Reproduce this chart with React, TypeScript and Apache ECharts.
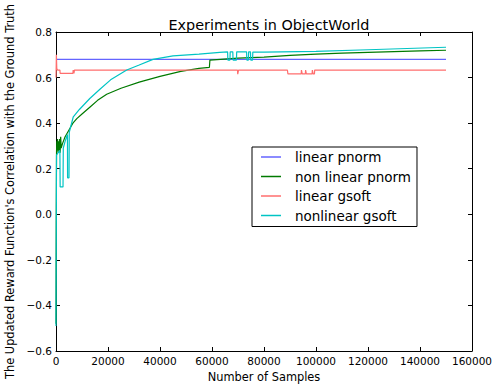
import React, { useEffect, useRef } from "react";
import * as echarts from "echarts";

const xTicks = [0, 20000, 40000, 60000, 80000, 100000, 120000, 140000, 160000];
const yTicks = [-0.6, -0.4, -0.2, 0.0, 0.2, 0.4, 0.6, 0.8];

const seriesNames = ["linear pnorm", "non linear pnorm", "linear gsoft", "nonlinear gsoft"];
const seriesColors = ["#6464ff", "#007a00", "#ff6e6e", "#00c4c4"];

const linearPnormX = [0, 150000];
const linearPnormY = [0.68, 0.68];

const nonlinearPnormX = [0, 100, 200, 300, 400, 600, 800, 1000, 1200, 1400, 1600, 1800, 2000, 2500, 3500, 5000, 6500, 8000, 10000, 13000, 16000, 19500, 25000, 32000, 40000, 48000, 55000, 59000, 59200, 70000, 80000, 90000, 100000, 110000, 120000, 130000, 140000, 150000];
const nonlinearPnormY = [-0.48, 0.0, 0.27, 0.32, 0.28, 0.33, 0.27, 0.32, 0.28, 0.33, 0.27, 0.34, 0.29, 0.31, 0.34, 0.37, 0.4, 0.42, 0.44, 0.47, 0.5, 0.527, 0.553, 0.58, 0.605, 0.627, 0.64, 0.645, 0.677, 0.685, 0.69, 0.697, 0.703, 0.707, 0.711, 0.714, 0.717, 0.72];

const linearGsoftX = [0, 150, 300, 600, 1500, 1600, 6500, 6600, 6900, 7100, 69800, 69900, 70100, 70200, 89000, 89200, 94300, 94400, 94700, 95900, 96000, 96300, 98500, 98600, 98900, 99400, 99500, 150000];
const linearGsoftY = [0.6, 0.7, 0.64, 0.633, 0.633, 0.618, 0.618, 0.633, 0.618, 0.633, 0.633, 0.615, 0.615, 0.633, 0.633, 0.616, 0.616, 0.633, 0.616, 0.616, 0.633, 0.616, 0.616, 0.633, 0.616, 0.616, 0.633, 0.633];

const nonlinearGsoftX = [0, 200, 800, 1500, 1600, 2700, 2800, 3500, 4400, 4450, 5000, 5100, 6650, 9000, 13000, 17000, 21000, 27200, 32000, 37300, 45000, 55000, 63000, 66000, 66100, 66900, 67000, 68000, 68100, 69400, 69500, 73300, 73400, 74000, 74100, 74800, 74900, 75600, 75700, 80000, 100000, 120000, 150000];
const nonlinearGsoftY = [-0.49, 0.26, 0.27, 0.28, 0.12, 0.12, 0.29, 0.32, 0.35, 0.16, 0.16, 0.36, 0.428, 0.46, 0.508, 0.55, 0.59, 0.633, 0.655, 0.68, 0.695, 0.703, 0.711, 0.713, 0.677, 0.677, 0.713, 0.713, 0.677, 0.677, 0.713, 0.713, 0.677, 0.677, 0.713, 0.713, 0.677, 0.677, 0.712, 0.712, 0.715, 0.722, 0.733];

const zip = (xs: number[], ys: number[]) => xs.map((x, i) => [x, ys[i]]);

const FONT = "DejaVu Sans";

export default function App() {
  const ref = useRef<HTMLDivElement>(null);
  useEffect(() => {
    if (!ref.current) return;
    const chart = echarts.init(ref.current, undefined, { renderer: "svg" });
    const seriesData = [
      zip(linearPnormX, linearPnormY),
      zip(nonlinearPnormX, nonlinearPnormY),
      zip(linearGsoftX, linearGsoftY),
      zip(nonlinearGsoftX, nonlinearGsoftY),
    ];
    const axisLine = { show: true, onZero: false, lineStyle: { color: "#000", width: 1 } };
    const tick = { show: true, inside: true, length: 4, lineStyle: { color: "#000" } };
    chart.setOption({
      animation: false,
      backgroundColor: "#fff",
      title: {
        text: "Experiments in ObjectWorld",
        left: 264,
        top: 13,
        textAlign: "center",
        textStyle: { fontFamily: FONT, fontSize: 14.4, fontWeight: "normal", color: "#000" },
      },
      grid: { left: 56, right: 22, top: 32, bottom: 35, containLabel: false, outerBoundsMode: "none" },
      legend: {
        orient: "vertical",
        left: 252,
        top: 147,
        padding: [3, 6, 4, 9],
        itemWidth: 20,
        itemHeight: 1.5,
        itemGap: 5.5,
        icon: "rect",
        borderColor: "#000",
        borderWidth: 1,
        borderRadius: 0,
        backgroundColor: "#fff",
        textStyle: { fontFamily: FONT, fontSize: 13.5, lineHeight: 14, color: "#000", padding: [0, 0, 0, 9] },
        data: seriesNames,
      },
      xAxis: [
        {
          type: "value",
          min: 0,
          max: 160000,
          interval: 20000,
          position: "bottom",
          name: "Number of Samples",
          nameLocation: "middle",
          nameGap: 20,
          nameTextStyle: { fontFamily: FONT, fontSize: 11.4, color: "#000" },
          axisLine,
          axisTick: tick,
          splitLine: { show: false },
          axisLabel: { fontFamily: FONT, fontSize: 10.5, color: "#000", margin: 4, formatter: (v: number) => String(v) },
        },
        {
          type: "value",
          min: 0,
          max: 160000,
          interval: 20000,
          position: "top",
          axisLine,
          axisTick: tick,
          splitLine: { show: false },
          axisLabel: { show: false },
        },
      ],
      yAxis: [
        {
          type: "value",
          min: -0.6,
          max: 0.8,
          interval: 0.2,
          position: "left",
          name: "The Updated Reward Function's Correlation with the Ground Truth",
          nameLocation: "middle",
          nameGap: 40,
          nameTextStyle: { fontFamily: FONT, fontSize: 11.4, color: "#000" },
          axisLine,
          axisTick: tick,
          splitLine: { show: false },
          axisLabel: {
            fontFamily: FONT,
            fontSize: 10.5,
            color: "#000",
            margin: 4,
            formatter: (v: number) => {
              const s = Math.abs(v).toFixed(1);
              return v < -1e-9 ? "\u2212" + s : s;
            },
          },
        },
        {
          type: "value",
          min: -0.6,
          max: 0.8,
          interval: 0.2,
          position: "right",
          axisLine,
          axisTick: tick,
          splitLine: { show: false },
          axisLabel: { show: false },
        },
      ],
      series: seriesNames.map((name, i) => ({
        name,
        type: "line",
        data: seriesData[i],
        showSymbol: false,
        symbol: "none",
        color: seriesColors[i],
        lineStyle: { width: 1.2, color: seriesColors[i] },
        xAxisIndex: 0,
        yAxisIndex: 0,
        z: 2 + i,
      })),
    });
    return () => chart.dispose();
  }, []);
  return <div ref={ref} style={{ width: 494, height: 386, position: "absolute", left: 0, top: 0 }} />;
}
